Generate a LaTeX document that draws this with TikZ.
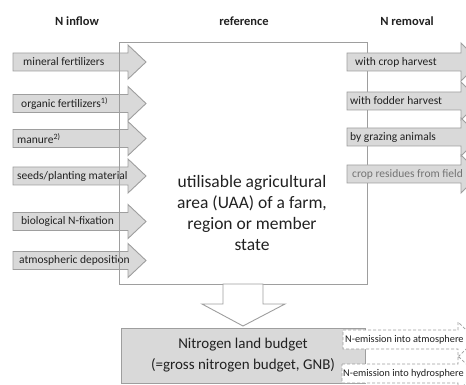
\documentclass[tikz,border=0pt]{standalone}
\usepackage{fontspec}
\setmainfont{Carlito}
\usetikzlibrary{arrows.meta}
\definecolor{dddddd}{rgb}{0.85,0.85,0.85}
\definecolor{aaaaaa}{rgb}{0.62,0.62,0.62}
\definecolor{tttttt}{rgb}{0.13,0.13,0.13}
\definecolor{gggggg}{rgb}{0.45,0.45,0.45}

\begin{document}
\begin{tikzpicture}[line join=miter,x=1pt,y=-1pt,
  blockarrow/.style={draw=aaaaaa,fill=dddddd,line width=0.9pt},
  dasharrow/.style={draw=aaaaaa,fill=white,line width=0.8pt,dash pattern=on 3pt off 2pt},
  head/.style={font=\fontsize{12.5}{15}\selectfont\bfseries,text=tttttt},
  lbl/.style={anchor=west,inner sep=0pt,font=\fontsize{11.5}{13}\selectfont,text=tttttt},
  small/.style={anchor=west,inner sep=0pt,font=\fontsize{10.3}{12}\selectfont,text=tttttt}]
\useasboundingbox (0,0) rectangle (466,385);
\clip (0,0) rectangle (466,385);
% column titles
\node[head] (inflow) at (77,21) {N inflow};
\node[head] (reference) at (244,21) {reference};
\node[head] (removal) at (407,21) {N removal};
% inflow arrows
\foreach \c in {62,103.5,138.5,176,221.5,260.5}
  \draw[blockarrow] (13,\c-9) -- (128,\c-9) -- (128,\c-17) -- (146,\c) -- (128,\c+17) -- (128,\c+9) -- (13,\c+9) -- cycle;
\node[lbl] (mineral) at (23,62) {mineral fertilizers};
\node[lbl] (organic) at (21,103.5) {organic fertilizers\textsuperscript{1)}};
\node[lbl] (manure) at (17,138.5) {manure\textsuperscript{2)}};
\node[lbl] (seeds) at (17,176) {seeds/planting material};
\node[lbl] (fixation) at (21,221.5) {biological N-fixation};
\node[lbl] (deposition) at (19,260.5) {atmospheric deposition};
% reference area
\draw[draw=aaaaaa,line width=0.9pt] (119,42) rectangle (367,284);
\node[align=center,text=tttttt,font=\fontsize{17.5}{21.3}\selectfont] (uaa) at (252,213)
  {utilisable agricultural\\area (UAA) of a farm,\\region or member\\state};
% removal arrows (cut at the right edge)
\foreach \c in {62,101,137,174}
  \draw[blockarrow] (347,\c-9) -- (461,\c-9) -- (461,\c-19) -- (480,\c) -- (461,\c+19) -- (461,\c+9) -- (347,\c+9) -- cycle;
\node[lbl] (crop) at (355,62) {with crop harvest};
\node[lbl] (fodder) at (350,101) {with fodder harvest};
\node[lbl] (grazing) at (350,137) {by grazing animals};
\node[lbl,text=gggggg] (residues) at (352,174) {crop residues from field};
\draw[draw=aaaaaa,fill=white,line width=0.9pt] (223,284) -- (223,304) -- (202,304) -- (243,326) -- (285,304) -- (263,304) -- (263,284) -- cycle;
% budget
\node[draw=aaaaaa,fill=dddddd,line width=0.9pt,minimum width=244pt,minimum height=55pt,
  align=center,text=tttttt,font=\fontsize{15}{21}\selectfont] (budget) at (243,355.5)
  {Nitrogen land budget\\(=gross nitrogen budget, GNB)};
\draw[dasharrow] (343,330) -- (458,330) -- (458,322) -- (476,339.5) -- (458,357) -- (458,349) -- (343,349) -- cycle;
\draw[dasharrow] (342,364) -- (458,364) -- (458,356) -- (476,373.5) -- (458,391) -- (458,383) -- (342,383) -- cycle;
\node[small] (atmo) at (345,339.5) {N-emission into atmosphere};
\node[small] (hydro) at (343,373.5) {N-emission into hydrosphere};
\end{tikzpicture}
\end{document}
